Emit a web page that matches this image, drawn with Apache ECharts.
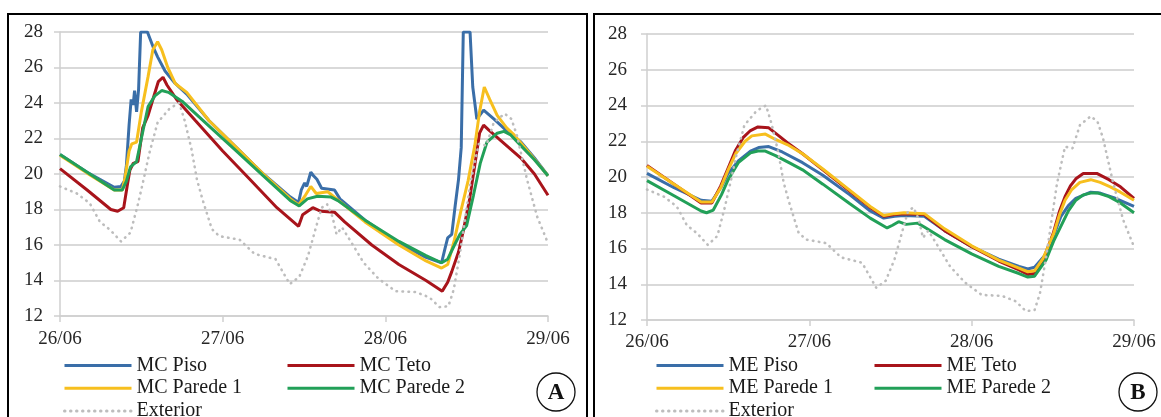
<!DOCTYPE html>
<html>
<head>
<meta charset="utf-8">
<script src="https://cdn.jsdelivr.net/npm/echarts@6/dist/echarts.min.js"></script>
<style>
	html, body { margin: 0; padding: 0; background: #fff; }
	#chart { width: 1161px; height: 417px; }
</style>
</head>
<body>
<div id="chart"></div>
<script>
	// eixo x em horas desde 26/06 00:00
	const dayLabels = ['26/06', '27/06', '28/06', '29/06']
	const yMin = 12
	const yMax = 28
	const yStep = 2

	// A - MC  ([hora, °C])
	const mcPiso = [[0,21.1],[4,20.1],[8,19.25],[9,19.3],[9.5,19.6],[9.8,20.5],[10.2,22.8],[10.5,24.2],[10.8,23.9],[11.0,24.7],[11.3,23.5],[11.6,24.8],[11.9,28],[12.9,28],[13.8,27.1],[14.4,26.6],[15.5,25.8],[17,25.1],[18.7,24.5],[22,23.0],[26,21.5],[30,20.0],[34,18.7],[35.2,18.4],[35.6,19.1],[36.1,19.5],[36.4,19.3],[37.0,20.1],[37.4,19.9],[37.9,19.7],[38.6,19.2],[40.5,19.1],[41.3,18.6],[45,17.4],[50,16.1],[54,15.3],[56.3,15.0],[56.8,15.8],[57.2,16.4],[57.8,16.6],[58.3,18.2],[58.8,19.7],[59.2,21.5],[59.5,28],[60.5,28],[60.9,24.9],[61.5,23.1],[62.5,23.6],[64,23.1],[66,22.4],[68,21.8],[70,20.9],[72,19.9]]
	const mcTeto = [[0,20.3],[4,19.1],[7.5,18.0],[8.5,17.9],[9.4,18.1],[9.9,19.3],[10.3,20.2],[10.8,20.6],[11.5,20.7],[12.2,22.6],[13,23.3],[13.7,24.2],[14.5,25.2],[15.2,25.45],[15.8,25.0],[17.2,24.2],[20,23.0],[24,21.3],[28,19.7],[32,18.1],[35.2,17.05],[35.8,17.7],[37.3,18.1],[38.5,17.9],[40.5,17.85],[42,17.3],[46,16.0],[50,14.9],[54,14.0],[56.4,13.4],[57.2,13.9],[57.8,14.5],[58.8,15.6],[59.5,16.8],[60.4,18.5],[61.2,20.5],[61.9,22.3],[62.5,22.75],[63.2,22.5],[65,21.9],[68,20.9],[70,20.0],[72,18.8]]
	const mcParede1 = [[0,21.05],[4,20.05],[8,19.1],[9.2,19.1],[9.6,19.8],[10.2,21.3],[10.6,21.7],[11.3,21.8],[12,23.5],[13,25.5],[13.7,27.0],[14.4,27.45],[15,27.0],[15.9,26.0],[17,25.1],[18.7,24.6],[22,23.0],[26,21.5],[30,20.0],[34,18.6],[35.2,18.25],[36.2,18.8],[37.0,19.3],[37.8,18.9],[39.5,19.0],[40.8,18.6],[45,17.3],[50,16.0],[54,15.1],[56.3,14.7],[57.2,14.9],[58.2,16.3],[59.2,18.0],[60.2,19.6],[61.2,21.6],[61.9,23.5],[62.6,24.9],[63.4,24.2],[64.5,23.3],[65.9,22.6],[67,22.2],[69,21.3],[72,19.9]]
	const mcParede2 = [[0,21.1],[4,20.1],[8,19.1],[9.2,19.1],[9.8,19.6],[10.4,20.4],[11.3,20.7],[12,22],[13,23.8],[14,24.4],[15,24.7],[16,24.6],[18,24.1],[22,22.7],[26,21.3],[30,19.9],[34,18.5],[35.3,18.2],[36.5,18.6],[38,18.75],[40,18.7],[41,18.5],[45,17.4],[50,16.2],[54,15.4],[56.3,15.0],[57.2,15.2],[58.2,16.0],[59,16.6],[60,17.1],[61,18.8],[62,20.6],[63,21.8],[64.5,22.3],[65.5,22.4],[66.5,22.2],[68,21.6],[70,20.8],[72,19.9]]

	// B - ME
	const mePiso = [[0,20.2],[4,19.4],[8,18.7],[9.6,18.65],[10.9,19.4],[12,20.2],[13.5,20.9],[15.3,21.45],[16.5,21.65],[18,21.7],[20,21.4],[23,20.8],[26,20.1],[30,19.0],[33,18.1],[35,17.7],[36.6,17.8],[38,17.85],[41,17.8],[44,17.0],[48,16.1],[52,15.4],[55,15.0],[56.3,14.85],[57.3,14.95],[59,15.7],[60.1,16.7],[61.2,17.8],[62.3,18.4],[63.4,18.8],[65.6,19.15],[67,19.1],[69,18.85],[72,18.35]]
	const meTeto = [[0,20.65],[4,19.6],[8,18.55],[9.6,18.55],[10.9,19.5],[12,20.5],[13.1,21.5],[14.2,22.2],[15.3,22.6],[16.4,22.8],[18,22.75],[19.5,22.3],[20.8,21.9],[23,21.3],[26,20.4],[30,19.2],[33,18.3],[35,17.8],[36.6,17.9],[38,17.95],[41,17.9],[44,17.0],[48,16.1],[52,15.3],[55,14.8],[56.3,14.55],[57.3,14.6],[58.5,15.3],[60.1,16.9],[61,18.1],[61.8,18.9],[62.6,19.5],[63.4,19.9],[64.5,20.2],[66.5,20.2],[68.3,19.85],[70,19.45],[72,18.8]]
	const meParede1 = [[0,20.6],[4,19.6],[8,18.6],[9.6,18.6],[10.9,19.4],[12,20.4],[13.1,21.3],[14.5,22.0],[15.5,22.3],[17.5,22.4],[19,22.1],[20.8,21.8],[23,21.3],[26,20.45],[30,19.25],[33,18.35],[35,17.85],[36.6,17.95],[38,18.0],[41,17.95],[44,17.1],[48,16.15],[52,15.35],[55,14.9],[56.3,14.7],[57.3,14.75],[58.5,15.4],[60.1,16.8],[61,17.9],[61.8,18.7],[62.8,19.3],[64,19.7],[65.6,19.85],[67,19.7],[68.5,19.45],[70,19.15],[72,18.7]]
	const meParede2 = [[0,19.8],[4,18.95],[8,18.1],[8.8,18.0],[9.8,18.15],[11,19.0],[12,19.85],[13.5,20.8],[15.3,21.35],[16.4,21.45],[17.5,21.45],[19,21.2],[21,20.8],[23,20.4],[26,19.6],[30,18.5],[33,17.7],[35.5,17.15],[36.3,17.3],[37.2,17.5],[38.3,17.35],[40,17.42],[41,17.2],[44,16.5],[48,15.7],[52,15.0],[55,14.6],[56.3,14.4],[57.3,14.45],[59,15.36],[60.1,16.4],[61.2,17.25],[62.3,18.1],[63.4,18.7],[64.5,19.0],[65.6,19.1],[66.7,19.1],[68.3,18.9],[70,18.55],[72,18.0]]

	// temperatura exterior (mesma nos dois)
	const exterior = [[0,19.3],[2.5,18.9],[4.4,18.35],[5.9,17.3],[7.4,16.85],[9.0,16.2],[10.4,16.7],[11.5,18.3],[12.4,19.8],[13.2,21.2],[14.4,22.9],[16.2,23.7],[17.6,24.0],[18.4,23.0],[19.4,21.4],[20.2,19.7],[21,18.6],[22.4,16.9],[23.5,16.5],[26.5,16.3],[28.7,15.5],[31.8,15.2],[33.9,13.8],[35.3,14.2],[36.6,15.4],[37.7,16.9],[38.6,18.1],[39.4,18.3],[40.2,17.6],[40.8,16.6],[41.6,17.0],[42.9,16.2],[44.8,15.0],[47,14.1],[49.5,13.4],[52.5,13.35],[54.5,13.05],[56,12.5],[57.3,12.55],[58.1,13.5],[59,15.5],[60.6,19.6],[61.8,21.7],[62.9,21.6],[64,22.9],[65.6,23.4],[66.6,23.1],[67.4,22.2],[68.9,19.7],[70.4,17.6],[72,16.1]]

	const colors = {
		piso: '#3a6ea8',
		teto: '#a8141b',
		parede1: '#f7bf1e',
		parede2: '#22a058',
		exterior: '#bdbdbd'
	}

	const serif = '"Liberation Serif", "DejaVu Serif", serif'

	const line = (name, data, color, idx, dotted) => ({
		name: name,
		type: 'line',
		xAxisIndex: idx,
		yAxisIndex: idx,
		data: data,
		symbol: 'none',
		showSymbol: false,
		animation: false,
		clip: true,
		lineStyle: dotted ? {
			color: color,
			width: 2.6,
			type: [0.5, 5.5],
			cap: 'round'
		} : {
			color: color,
			width: 3
		},
		itemStyle: { color: color }
	})

	const xAxis = (idx, margin) => ({
		type: 'value',
		gridIndex: idx,
		min: 0,
		max: 72,
		interval: 24,
		axisLine: { show: true, lineStyle: { color: '#cfcfcf', width: 1.5 } },
		axisTick: { show: true, length: 6, lineStyle: { color: '#cfcfcf', width: 1.5 } },
		splitLine: { show: false },
		axisLabel: {
			margin: margin,
			color: '#262626',
			fontFamily: serif,
			fontSize: 19,
			formatter: v => dayLabels[Math.round(v / 24)]
		}
	})

	const yAxis = (idx, margin) => ({
		type: 'value',
		gridIndex: idx,
		min: yMin,
		max: yMax,
		interval: yStep,
		axisLine: { show: true, lineStyle: { color: '#cfcfcf', width: 1.5 } },
		axisTick: { show: true, length: 6, lineStyle: { color: '#cfcfcf', width: 1.5 } },
		splitLine: { show: true, lineStyle: { color: '#d9d9d9', width: 2 } },
		axisLabel: {
			margin: margin,
			color: '#262626',
			fontFamily: serif,
			fontSize: 19
		}
	})

	const legend = (names, left) => ({
		data: names,
		orient: 'vertical',
		left: left,
		top: 354,
		height: 90,
		padding: 0,
		itemWidth: 67,
		itemHeight: 14,
		itemGap: 0,
		selectedMode: false,
		// só a linha, sem o marcador
		itemStyle: { opacity: 0 },
		lineStyle: { width: 3 },
		textStyle: {
			color: '#1a1a1a',
			fontFamily: serif,
			fontSize: 20,
			lineHeight: 22.8
		}
	})

	const badge = (cx, letter) => ({
		type: 'group',
		children: [{
			type: 'circle',
			shape: { cx: cx, cy: 392, r: 19 },
			style: { fill: '#fff', stroke: '#111', lineWidth: 1.3 }
		}, {
			type: 'text',
			x: cx,
			y: 393,
			style: {
				text: letter,
				fill: '#111',
				font: 'bold 23px ' + serif,
				align: 'center',
				verticalAlign: 'middle'
			}
		}]
	})

	const option = {
		backgroundColor: '#fff',
		animation: false,
		grid: [
			{ left: 60, top: 32, width: 488, height: 284 },
			{ left: 647, top: 34, width: 487, height: 286 }
		],
		xAxis: [xAxis(0, 14), xAxis(1, 13)],
		yAxis: [yAxis(0, 17), yAxis(1, 20)],
		legend: [
			legend(['MC Piso', 'MC Parede 1', 'Exterior'], 63),
			legend(['MC Teto', 'MC Parede 2'], 286),
			legend(['ME Piso', 'ME Parede 1', 'Exterior'], 655),
			legend(['ME Teto', 'ME Parede 2'], 873)
		],
		series: [
			line('MC Piso', mcPiso, colors.piso, 0),
			line('MC Teto', mcTeto, colors.teto, 0),
			line('MC Parede 1', mcParede1, colors.parede1, 0),
			line('MC Parede 2', mcParede2, colors.parede2, 0),
			line('Exterior', exterior, colors.exterior, 0, true),
			line('ME Piso', mePiso, colors.piso, 1),
			line('ME Teto', meTeto, colors.teto, 1),
			line('ME Parede 1', meParede1, colors.parede1, 1),
			line('ME Parede 2', meParede2, colors.parede2, 1),
			line('Exterior', exterior, colors.exterior, 1, true)
		],
		graphic: [
			// molduras dos paineis
			{ type: 'rect', shape: { x: 8, y: 14, width: 579, height: 420 }, style: { fill: 'none', stroke: '#000', lineWidth: 2 } },
			{ type: 'rect', shape: { x: 594, y: 14, width: 580, height: 420 }, style: { fill: 'none', stroke: '#000', lineWidth: 2 } },
			badge(556, 'A'),
			badge(1138, 'B')
		]
	}

	const myChart = echarts.init(document.getElementById('chart'))
	myChart.setOption(option)
</script>
</body>
</html>
